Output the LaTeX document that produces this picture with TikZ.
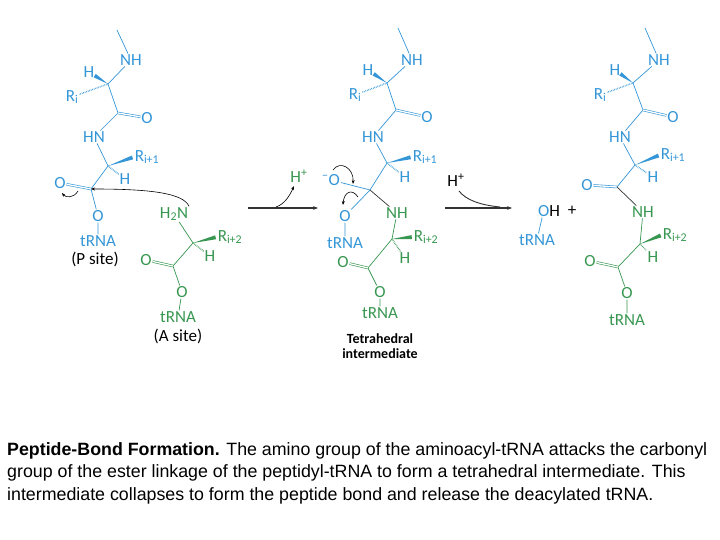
\documentclass[tikz,border=0pt]{standalone}
\usepackage{fontspec}
\setmainfont{Carlito}
\newfontfamily\capfont{Liberation Sans}
\usetikzlibrary{calc,arrows.meta}
\definecolor{bl}{RGB}{52,150,215}
\definecolor{gr}{RGB}{55,150,80}
\tikzset{
 atom/.style={inner sep=0.8pt,font=\fontsize{17}{17}\selectfont},
 atb/.style={atom,text=bl},
 atg/.style={atom,text=gr},
 bb/.style={draw=bl,line width=0.7pt},
 bg/.style={draw=gr,line width=0.7pt},
 dbb/.style={draw=bl,double=white,double distance=1.3pt,line width=0.6pt},
 dbg/.style={draw=gr,double=white,double distance=1.3pt,line width=0.6pt},
 hashb/.style={draw=bl,line width=1.4pt,dash pattern=on 0.6pt off 1pt},
 hashg/.style={draw=gr,line width=1.4pt,dash pattern=on 0.6pt off 1pt},
 curly/.style={draw=black,line width=0.6pt,-{Stealth[length=4pt]}},
 rxn/.style={draw=black!80,line width=1.1pt,-{Stealth[length=5pt]}},
}
\newcommand{\wdg}[4]{\coordinate (wtmp) at ($(#2)!#4!(#3)$);
 \fill[#1] (#2) -- ($(wtmp)!2pt!90:(#2)$) -- ($(wtmp)!2pt!-90:(#2)$) -- cycle;}
\begin{document}
\begin{tikzpicture}[x=1pt,y=-1pt]
\useasboundingbox (0,0) rectangle (720,540);
% ===== Left structure =====
\coordinate (Lt) at (117,30);
\node[atb] (LNH) at (131,60) {NH};
\coordinate (LCa1) at (108,84);
\node[atb] (LH1) at (89,72) {H};
\node[atb] (LR1) at (72,97) {R\textsubscript{i}};
\coordinate (LC1) at (118,113);
\node[atb] (LO1) at (147,118) {O};
\node[atb] (LHN) at (94,137) {HN};
\coordinate (LCa2) at (108,166);
\node[atb] (LR2) at (147,157) {R\textsubscript{i+1}};
\node[atb] (LH2) at (125,179) {H};
\coordinate (LC2) at (91,189);
\node[atb] (LO2) at (60,183) {O};
\node[atb] (LO3) at (98,216) {O};
\node[atb] (LT) at (98,241) {tRNA};
\node[atom] (LP) at (95,259) {(P site)};
\node[atg] (LN) at (174,214) {H\textsubscript{2}N};
\coordinate (LCa3) at (193,243);
\node[atg] (LR3) at (230,237) {R\textsubscript{i+2}};
\node[atg] (LH3) at (210,256) {H};
\coordinate (LC3) at (173,266);
\node[atg] (LO4) at (146,260) {O};
\node[atg] (LO5) at (182,292) {O};
\node[atg] (LT2) at (178,317) {tRNA};
\node[atom] (LA) at (178,336) {(A site)};
\draw[bb] (Lt) -- (LNH) -- (LCa1) -- (LC1) -- (LHN) -- (LCa2) -- (LC2) -- (LO3) -- (LT);
\wdg{bl}{LCa1}{LH1}{0.7}
\draw[hashb] (LCa1) -- (LR1);
\draw[dbb] (LC1) -- (LO1);
\wdg{bl}{LCa2}{LR2.west}{0.95}
\draw[hashb] (LCa2) -- (LH2);
\draw[dbb] (LC2) -- (LO2);
\draw[bg] (LN) -- (LCa3) -- (LC3) -- (LO5) -- (LT2);
\wdg{gr}{LCa3}{LR3.west}{0.95}
\draw[hashg] (LCa3) -- (LH3);
\draw[dbg] (LC3) -- (LO4);
\draw[curly] (LN.north east) .. controls (183,193) and (150,189) .. (LC2);
\draw[curly] (78,191) .. controls (74,198) and (66,198) .. (62,193);
% ===== Arrow 1 =====
\coordinate (A1s) at (248,208);
\coordinate (A1e) at (318,208);
\draw[rxn] (A1s) -- (A1e);
\node[atg] (Hp1) at (299,176) {H\textsuperscript{+}};
\draw[curly] (276,207) .. controls (285,204) and (290,195) .. (294,186);
% ===== Middle structure =====
\coordinate (Mt) at (398,28);
\node[atb] (MNH) at (412,60) {NH};
\coordinate (MCa1) at (387,83);
\node[atb] (MH1) at (368,70) {H};
\node[atb] (MR1) at (355,95) {R\textsubscript{i}};
\coordinate (MC1) at (396,110);
\node[atb] (MO1) at (427,117) {O};
\node[atb] (MHN) at (373,137) {HN};
\coordinate (MCa2) at (387,163);
\node[atb] (MR2) at (425,157) {R\textsubscript{i+1}};
\node[atb] (MH2) at (405,177) {H};
\coordinate (MC) at (370,190);
\node[atb] (MOm) at (331,180) {\textsuperscript{\textminus}O};
\node[atb] (MO3) at (345,216) {O};
\node[atb] (MT) at (345,243) {tRNA};
\node[atg] (MN) at (397,213) {NH};
\coordinate (MCa3) at (392,239);
\node[atg] (MR3) at (426,237) {R\textsubscript{i+2}};
\node[atg] (MH3) at (405,258) {H};
\coordinate (MC3) at (368,268);
\node[atg] (MO4) at (343,262) {O};
\node[atg] (MO5) at (380,292) {O};
\node[atg] (MT2) at (380,313) {tRNA};
\node[atom,font=\fontsize{14}{15}\selectfont\bfseries,align=center] (MTi) at (380,346) {Tetrahedral\\intermediate};
\draw[bb] (Mt) -- (MNH) -- (MCa1) -- (MC1) -- (MHN) -- (MCa2) -- (MC) -- (MO3) -- (MT);
\draw[bb] (MC) -- (MOm);
\wdg{bl}{MCa1}{MH1}{0.7}
\draw[hashb] (MCa1) -- (MR1);
\draw[dbb] (MC1) -- (MO1);
\wdg{bl}{MCa2}{MR2.west}{0.95}
\draw[hashb] (MCa2) -- (MH2);
\draw[draw=black!80,line width=0.7pt] (MC) -- (MN);
\draw[bg] (MN) -- (MCa3) -- (MC3) -- (MO5) -- (MT2);
\wdg{gr}{MCa3}{MR3.west}{0.95}
\draw[hashg] (MCa3) -- (MH3);
\draw[dbg] (MC3) -- (MO4);
\draw[curly] (333,170) .. controls (340,160) and (354,168) .. (353,184);
\draw[curly] (358,197) .. controls (352,188) and (344,192) .. (343,205);
% ===== Arrow 2 =====
\coordinate (A2s) at (445,208);
\coordinate (A2e) at (512,208);
\draw[rxn] (A2s) -- (A2e);
\node[atom] (Hp2) at (456,180) {H\textsuperscript{+}};
\draw[draw=black!80,line width=0.9pt] (459,191) .. controls (466,200) and (480,205) .. (500,207);
% ===== Right structure =====
\node[atom] (RO) at (549,211) {\textcolor{bl}{O}H};
\node[atom] (Rplus) at (572,211) {+};
\node[atb] (RT) at (537,240) {tRNA};
\draw[bb] ($(RO.south west)+(5,0)$) -- (RT);
\coordinate (Rt) at (645,28);
\node[atb] (RNH) at (659,60) {NH};
\coordinate (RCa1) at (633,83);
\node[atb] (RH1) at (615,70) {H};
\node[atb] (RR1) at (600,95) {R\textsubscript{i}};
\coordinate (RC1) at (643,110);
\node[atb] (RO1) at (673,117) {O};
\node[atb] (RHN) at (620,137) {HN};
\coordinate (RCa2) at (635,165);
\node[atb] (RR2) at (673,155) {R\textsubscript{i+1}};
\node[atb] (RH2) at (653,177) {H};
\coordinate (RC2) at (617,187);
\node[atb] (RO2) at (587,185) {O};
\node[atg] (RN) at (643,212) {NH};
\coordinate (RCa3) at (640,244);
\node[atg] (RR3) at (675,235) {R\textsubscript{i+2}};
\node[atg] (RH3) at (653,257) {H};
\coordinate (RC3) at (618,267);
\node[atg] (RO4) at (590,261) {O};
\node[atg] (RO5) at (627,293) {O};
\node[atg] (RT2) at (627,320) {tRNA};
\draw[bb] (Rt) -- (RNH) -- (RCa1) -- (RC1) -- (RHN) -- (RCa2) -- (RC2);
\wdg{bl}{RCa1}{RH1}{0.7}
\draw[hashb] (RCa1) -- (RR1);
\draw[dbb] (RC1) -- (RO1);
\wdg{bl}{RCa2}{RR2.west}{0.95}
\draw[hashb] (RCa2) -- (RH2);
\draw[dbb] (RC2) -- (RO2);
\draw[draw=black!80,line width=0.7pt] (RC2) -- (RN);
\draw[bg] (RN) -- (RCa3) -- (RC3) -- (RO5) -- (RT2);
\wdg{gr}{RCa3}{RR3.west}{0.95}
\draw[hashg] (RCa3) -- (RH3);
\draw[dbg] (RC3) -- (RO4);
% ===== Caption =====
\node[anchor=north west,inner sep=0pt,align=left,font=\capfont\fontsize{17.8}{22.5}\selectfont] (cap) at (7,442)
 {\textbf{Peptide-Bond Formation.} The amino group of the aminoacyl-tRNA attacks the carbonyl\\group of the ester linkage of the peptidyl-tRNA to form a tetrahedral intermediate. This\\intermediate collapses to form the peptide bond and release the deacylated tRNA.};
\end{tikzpicture}
\end{document}
